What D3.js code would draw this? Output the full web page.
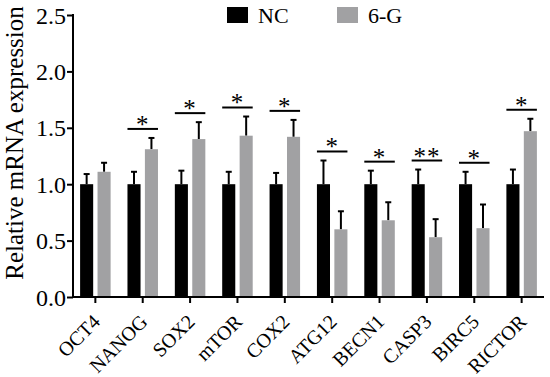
<!DOCTYPE html>
<html>
<head>
<meta charset="utf-8">
<script src="https://cdn.jsdelivr.net/npm/d3@7"></script>
<style>
  text { font-family: 'Liberation Serif', 'Times New Roman', serif !important; }
</style>
</head>
<body style="margin:0;background:#fff">
<svg id="chart" width="550" height="377" font-family="Liberation Serif"></svg>
<script>
// values
const genes = ['OCT4', 'NANOG', 'SOX2', 'mTOR', 'COX2', 'ATG12', 'BECN1', 'CASP3', 'BIRC5', 'RICTOR'];
const ncMean = [1, 1, 1, 1, 1, 1, 1, 1, 1, 1];
const ncErr = [0.09, 0.11, 0.12, 0.11, 0.10, 0.21, 0.12, 0.13, 0.11, 0.13];
const gMean = [1.11, 1.31, 1.40, 1.43, 1.42, 0.60, 0.68, 0.53, 0.61, 1.47];
const gErr = [0.08, 0.10, 0.15, 0.17, 0.15, 0.16, 0.16, 0.16, 0.21, 0.11];
const signif = ['', '*', '*', '*', '*', '*', '*', '**', '*', '*'];
const yTicks = [0, 0.5, 1.0, 1.5, 2.0, 2.5];
const seriesNames = ['NC', '6-G'];
const colors = ['#000000', '#a1a1a3'];

const font = 'Times New Roman';
const margin = {top: 15, right: 6, bottom: 80, left: 73};
const width = 550, height = 377;

const svg = d3.select('#chart');

const x = d3.scaleBand()
    .domain(genes)
    .range([margin.left, width - margin.right])
    .paddingInner(0.356)
    .paddingOuter(0.15);

const y = d3.scaleLinear()
    .domain([0, 2.5])
    .range([height - margin.bottom, margin.top]);

const sub = d3.scaleBand()
    .domain(seriesNames)
    .range([0, x.bandwidth()])
    .paddingInner(0.25);

const rows = genes.map((g, i) => ({
  gene: g,
  vals: [
    {s: 'NC', v: ncMean[i], e: ncErr[i]},
    {s: '6-G', v: gMean[i], e: gErr[i]}
  ],
  sig: signif[i]
}));

const grp = svg.selectAll('g.gene')
  .data(rows)
  .enter().append('g')
  .attr('class', 'gene')
  .attr('transform', d => 'translate(' + x(d.gene) + ',0)');

const bars = grp.selectAll('g.bar')
  .data(d => d.vals)
  .enter().append('g');

// error bars, upper half only
bars.append('line')
  .attr('x1', d => sub(d.s) + sub.bandwidth() / 2)
  .attr('x2', d => sub(d.s) + sub.bandwidth() / 2)
  .attr('y1', d => y(d.v))
  .attr('y2', d => y(d.v + d.e))
  .attr('stroke', '#000')
  .attr('stroke-width', 2);
bars.append('line')
  .attr('x1', d => sub(d.s) + sub.bandwidth() / 2 - 3)
  .attr('x2', d => sub(d.s) + sub.bandwidth() / 2 + 3)
  .attr('y1', d => y(d.v + d.e))
  .attr('y2', d => y(d.v + d.e))
  .attr('stroke', '#000')
  .attr('stroke-width', 2);

bars.append('rect')
  .attr('x', d => sub(d.s))
  .attr('width', sub.bandwidth())
  .attr('y', d => y(d.v))
  .attr('height', d => y(0) - y(d.v))
  .attr('fill', (d, i) => colors[i]);

// significance markers
const sigGrp = grp.filter(d => d.sig !== '');
function topOf(d) {
  return d3.max(d.vals, v => v.v + v.e) + 0.08;
}
sigGrp.append('line')
  .attr('x1', 0)
  .attr('x2', x.bandwidth())
  .attr('y1', d => y(topOf(d)))
  .attr('y2', d => y(topOf(d)))
  .attr('stroke', '#000')
  .attr('stroke-width', 2);
sigGrp.append('text')
  .attr('x', x.bandwidth() / 2)
  .attr('y', d => y(topOf(d)) + 4)
  .attr('text-anchor', 'middle')
  .attr('font-family', font)
  .attr('font-size', 25)
  .attr('letter-spacing', 1)
  .text(d => d.sig);

// axes
const yAxis = svg.append('g')
  .attr('transform', 'translate(' + margin.left + ',0)')
  .call(d3.axisLeft(y).tickValues(yTicks).tickFormat(d3.format('.1f')).tickSize(6).tickSizeOuter(0));
yAxis.attr('font-family', font).attr('font-size', 24);
yAxis.select('.domain').attr('stroke-width', 2).attr('d', 'M0,' + (y(0) + 1) + 'V' + (y(2.5) - 1));
yAxis.selectAll('.tick line').attr('stroke-width', 2);
yAxis.selectAll('.tick text')
  .attr('x', -7)
  .attr('dy', '0.34em')
  .attr('font-family', font);

const xAxis = svg.append('g')
  .attr('transform', 'translate(0,' + y(0) + ')')
  .call(d3.axisBottom(x).tickSize(6).tickSizeOuter(0));
xAxis.attr('font-family', font).attr('font-size', 20);
xAxis.select('.domain').attr('stroke-width', 2).attr('d', 'M' + (margin.left - 1) + ',0H' + (width - margin.right));
xAxis.selectAll('.tick line').attr('stroke-width', 2);
xAxis.selectAll('.tick text')
  .attr('text-anchor', 'end')
  .attr('transform', 'translate(6,26) rotate(-45)')
  .attr('x', 0)
  .attr('y', 0)
  .attr('dy', 0)
  .attr('font-family', font);

// y title
svg.append('text')
  .attr('transform', 'translate(23,143) rotate(-90)')
  .attr('text-anchor', 'middle')
  .attr('font-family', font)
  .attr('font-size', 25)
  .text('Relative mRNA expression');

// legend
const legend = svg.selectAll('g.legend')
  .data(seriesNames)
  .enter().append('g')
  .attr('transform', (d, i) => 'translate(' + (227 + i * 110) + ',7)');
legend.append('rect')
  .attr('width', 21)
  .attr('height', 16)
  .attr('fill', (d, i) => colors[i]);
legend.append('text')
  .attr('x', 31)
  .attr('y', 16)
  .attr('font-family', font)
  .attr('font-size', 22)
  .text(d => d);
</script>
</body>
</html>
